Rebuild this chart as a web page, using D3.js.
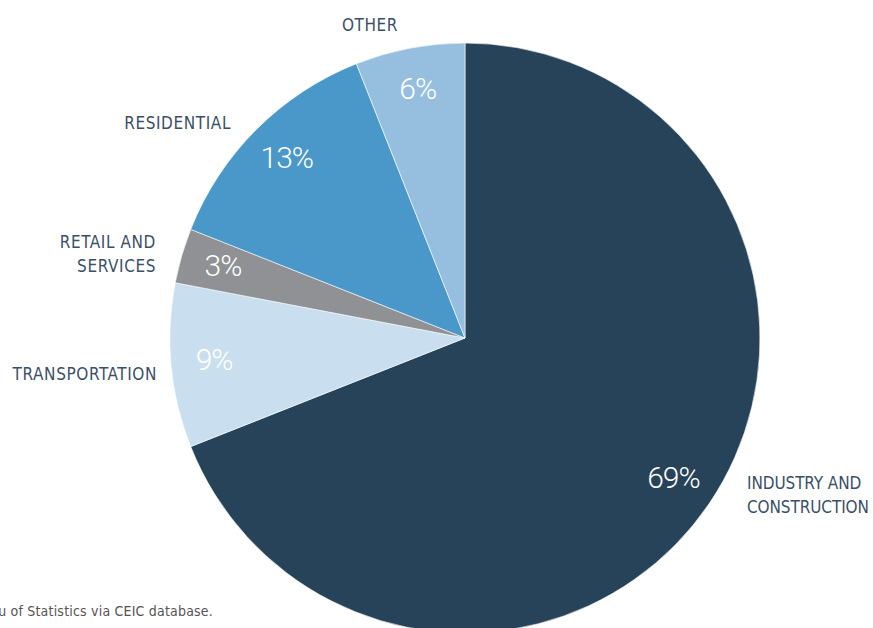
<!DOCTYPE html>
<html>
<head>
<meta charset="utf-8">
<script src="https://cdn.jsdelivr.net/npm/d3@7"></script>
<style>
  body { margin: 0; background: #fff; }
  svg { display: block; }
  .cat { font-family: "DejaVu Sans Condensed", "Liberation Sans Narrow", sans-serif; font-stretch: condensed; font-size: 17px; fill: #3b5068; letter-spacing: 0.6px; }
  .pct { font-family: Roboto, "Open Sans", sans-serif; font-weight: 300; font-size: 30px; fill: #fff; letter-spacing: -1px; }
  .note { font-family: "DejaVu Sans Condensed", "Liberation Sans Narrow", sans-serif; font-stretch: condensed; font-size: 14px; fill: #555; letter-spacing: 0.2px; }
</style>
</head>
<body>
<svg id="chart"></svg>
<script>
const categories = ["INDUSTRY AND CONSTRUCTION", "TRANSPORTATION", "RETAIL AND SERVICES", "RESIDENTIAL", "OTHER"];
const shares = [69, 9, 3, 13, 6];
const colors = ["#27435a", "#c9dfef", "#8f9194", "#4a98c9", "#96bfdf"];

const width = 873;
const height = 628;
const cx = 465;
const cy = 338;
const radius = 295;

// where each category name sits, with anchor and lines
const catLayout = {
    "INDUSTRY AND CONSTRUCTION": { x: 747, y: 489, anchor: "start", lines: ["INDUSTRY AND", "CONSTRUCTION"], spacing: "-0.1px" },
    "TRANSPORTATION": { x: 157, y: 380, anchor: "end", lines: ["TRANSPORTATION"] },
    "RETAIL AND SERVICES": { x: 156, y: 248, anchor: "end", lines: ["RETAIL AND", "SERVICES"] },
    "RESIDENTIAL": { x: 231, y: 129, anchor: "end", lines: ["RESIDENTIAL"] },
    "OTHER": { x: 370, y: 31, anchor: "middle", lines: ["OTHER"] }
};

const svg = d3.select("#chart")
    .attr("width", width)
    .attr("height", height);

const pie = d3.pie().sort(null).value(d => d.value);
const arcs = pie(categories.map((c, i) => ({ name: c, value: shares[i], color: colors[i] })));

const arc = d3.arc().innerRadius(0).outerRadius(radius);
const labelArc = d3.arc().innerRadius(252).outerRadius(252);

const g = svg.append("g").attr("transform", `translate(${cx},${cy})`);

g.selectAll("path")
    .data(arcs)
    .join("path")
    .attr("d", arc)
    .attr("fill", d => d.data.color)
    .attr("stroke", "#fff")
    .attr("stroke-width", 0.6);

g.selectAll("text.pct")
    .data(arcs)
    .join("text")
    .attr("class", "pct")
    .attr("transform", d => {
        const [x, y] = labelArc.centroid(d);
        return `translate(${x},${y - 2})`;
    })
    .attr("text-anchor", "middle")
    .attr("dy", "0.35em")
    .text(d => d.data.value + "%");

const cats = svg.selectAll("text.cat")
    .data(arcs)
    .join("text")
    .attr("class", "cat")
    .attr("text-anchor", d => catLayout[d.data.name].anchor)
    .style("letter-spacing", d => catLayout[d.data.name].spacing || null);

cats.selectAll("tspan")
    .data(d => catLayout[d.data.name].lines.map((l, i) => ({ l, i, p: catLayout[d.data.name] })))
    .join("tspan")
    .attr("x", d => d.p.x)
    .attr("y", d => d.p.y + d.i * 24)
    .text(d => d.l);

svg.append("text")
    .attr("class", "note")
    .attr("x", 213)
    .attr("y", 616)
    .attr("text-anchor", "end")
    .text("Source: China National Bureau of Statistics via CEIC database.");
</script>
</body>
</html>
